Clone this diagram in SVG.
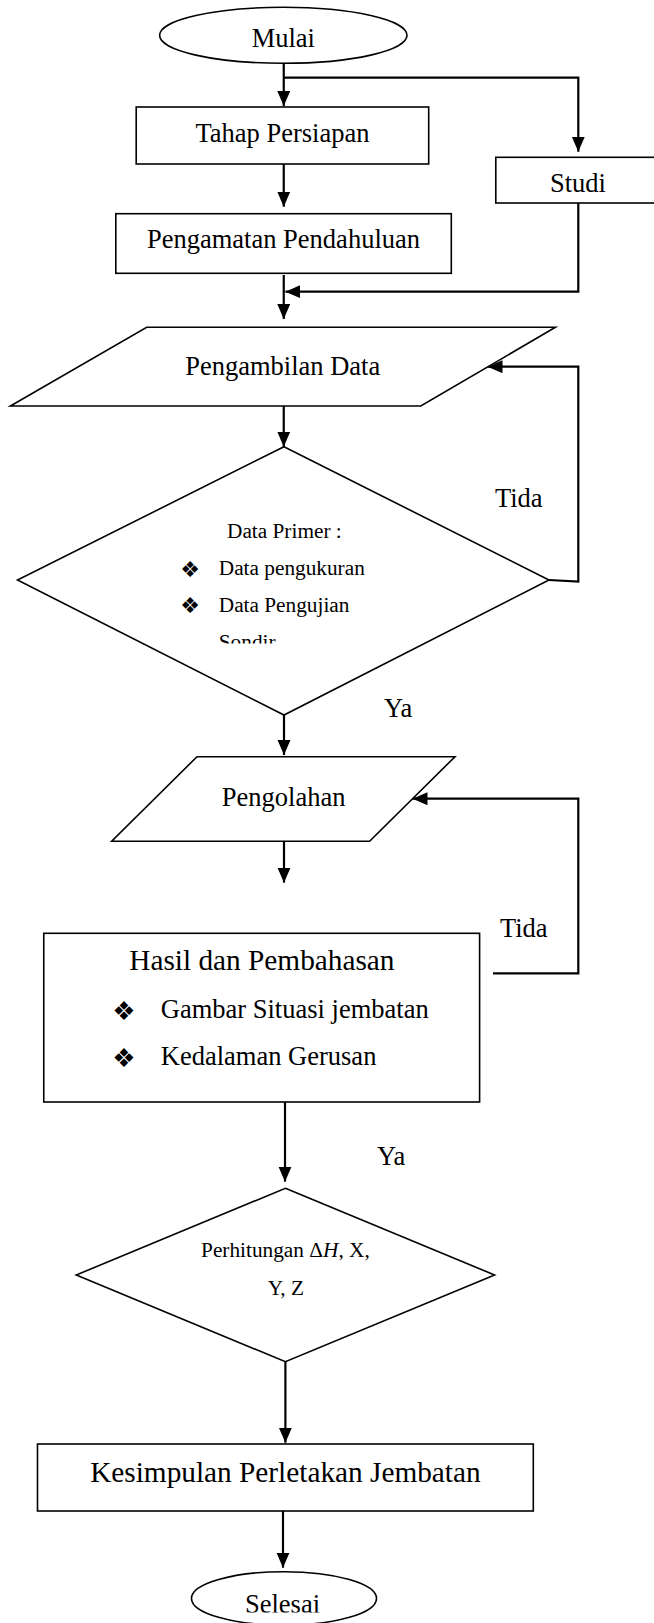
<svg xmlns="http://www.w3.org/2000/svg" width="654" height="1623" viewBox="0 0 654 1623">
<style>
.shape{fill:#fff;stroke:#000;stroke-width:1.6}
.conn{fill:none;stroke:#000;stroke-width:2.2}
.t{font-family:"Liberation Serif","Times New Roman",serif;fill:#000;font-size:26.5px}
.s{font-size:21.3px}
.big{font-size:29.3px}
.bul{font-family:"DejaVu Sans",sans-serif;fill:#000;text-anchor:middle}
.m{text-anchor:middle}
</style>
<defs>
<marker id="arr" markerUnits="userSpaceOnUse" markerWidth="16" markerHeight="14" refX="15" refY="6.5" orient="auto"><path d="M0,0 L15,6.5 L0,13 Z" fill="#000"/></marker>
<clipPath id="clipSondir"><rect x="0" y="0" width="654" height="643.5"/></clipPath>
<clipPath id="clipSelesai"><rect x="0" y="0" width="654" height="1612.5"/></clipPath>
</defs>
<rect width="654" height="1623" fill="#fff"/>

<g id="connectors">
<path class="conn" d="M283.75,63.3 V106" marker-end="url(#arr)"/>
<path class="conn" d="M283.75,77.7 H578.3 V151.7" marker-end="url(#arr)"/>
<path class="conn" d="M283.75,164 V206.7" marker-end="url(#arr)"/>
<path class="conn" d="M578.3,203 V291.7 H285.4" marker-end="url(#arr)"/>
<path class="conn" d="M283.75,275 V319" marker-end="url(#arr)"/>
<path class="conn" d="M283.75,406 V446.7" marker-end="url(#arr)"/>
<path class="conn" d="M549,580 L578.3,581.7 V366.7 H487.5" marker-end="url(#arr)"/>
<path class="conn" d="M284,715 V755" marker-end="url(#arr)"/>
<path class="conn" d="M284,839.3 V882.7" marker-end="url(#arr)"/>
<path class="conn" d="M493,973.3 H578.3 V798.7 H412.5" marker-end="url(#arr)"/>
<path class="conn" d="M285,1102 V1181.7" marker-end="url(#arr)"/>
<path class="conn" d="M285.4,1361.7 V1442.7" marker-end="url(#arr)"/>
<path class="conn" d="M283,1511 V1567.7" marker-end="url(#arr)"/>
<text class="t" x="495" y="506.7">Tida</text>
<text class="t" x="384" y="717">Ya</text>
<text class="t" x="500" y="937.3">Tida</text>
<text class="t" x="377" y="1165">Ya</text>
</g>

<g id="mulai">
<ellipse class="shape" cx="283.3" cy="35.3" rx="123.7" ry="28"/>
<text class="t m" x="283.3" y="46.7">Mulai</text>
</g>

<g id="tahap">
<rect class="shape" x="136.2" y="107" width="292.5" height="57"/>
<text class="t m" x="282.5" y="141.7">Tahap Persiapan</text>
</g>

<g id="studi">
<rect class="shape" x="495.8" y="157.3" width="170" height="45.7"/>
<text class="t m" x="578" y="192.3">Studi</text>
</g>

<g id="pengamatan">
<rect class="shape" x="115.8" y="213.7" width="335.5" height="59.6"/>
<text class="t m" x="283.5" y="248.3">Pengamatan Pendahuluan</text>
</g>

<g id="pengambilan">
<polygon class="shape" points="146.7,327.3 555.4,327.3 420.8,406 10.4,406"/>
<text class="t m" x="282.7" y="375">Pengambilan Data</text>
</g>

<g id="dataprimer">
<polygon class="shape" points="284,446.7 549,580 284,715 17.5,580"/>
<text class="t s" x="227" y="537.7">Data Primer :</text>
<text class="bul" x="190" y="576.5" font-size="22">❖</text>
<text class="t s" x="218.75" y="575">Data pengukuran</text>
<text class="bul" x="190" y="613.2" font-size="22">❖</text>
<text class="t s" x="218.75" y="611.7">Data Pengujian</text>
<text class="t s" x="218.75" y="648.5" clip-path="url(#clipSondir)">Sondir</text>
</g>

<g id="pengolahan">
<polygon class="shape" points="197,756.7 455,756.7 369.6,841.3 111.7,841.3"/>
<text class="t m" x="283.6" y="806">Pengolahan</text>
</g>

<g id="hasil">
<rect class="shape" x="43.75" y="933.3" width="435.85" height="168.7"/>
<text class="t big m" x="261.9" y="970">Hasil dan Pembahasan</text>
<text class="bul" x="124" y="1019.5" font-size="26">❖</text>
<text class="t" x="160.8" y="1018.3">Gambar Situasi jembatan</text>
<text class="bul" x="124" y="1066.5" font-size="26">❖</text>
<text class="t" x="160.8" y="1065">Kedalaman Gerusan</text>
</g>

<g id="perhitungan">
<polygon class="shape" points="285.4,1188.3 494.6,1275 285.4,1361.7 76.25,1275"/>
<text class="t s m" x="285.4" y="1256.7">Perhitungan Δ<tspan font-style="italic">H</tspan>, X,</text>
<text class="t s m" x="285.8" y="1295">Y, Z</text>
</g>

<g id="kesimpulan">
<rect class="shape" x="37.5" y="1444" width="495.8" height="67"/>
<text class="t big m" x="285.4" y="1481.7">Kesimpulan Perletakan Jembatan</text>
</g>

<g id="selesai">
<ellipse class="shape" cx="284" cy="1598.4" rx="92.5" ry="26.7"/>
<text class="t m" x="282.5" y="1613" clip-path="url(#clipSelesai)">Selesai</text>
</g>
</svg>
